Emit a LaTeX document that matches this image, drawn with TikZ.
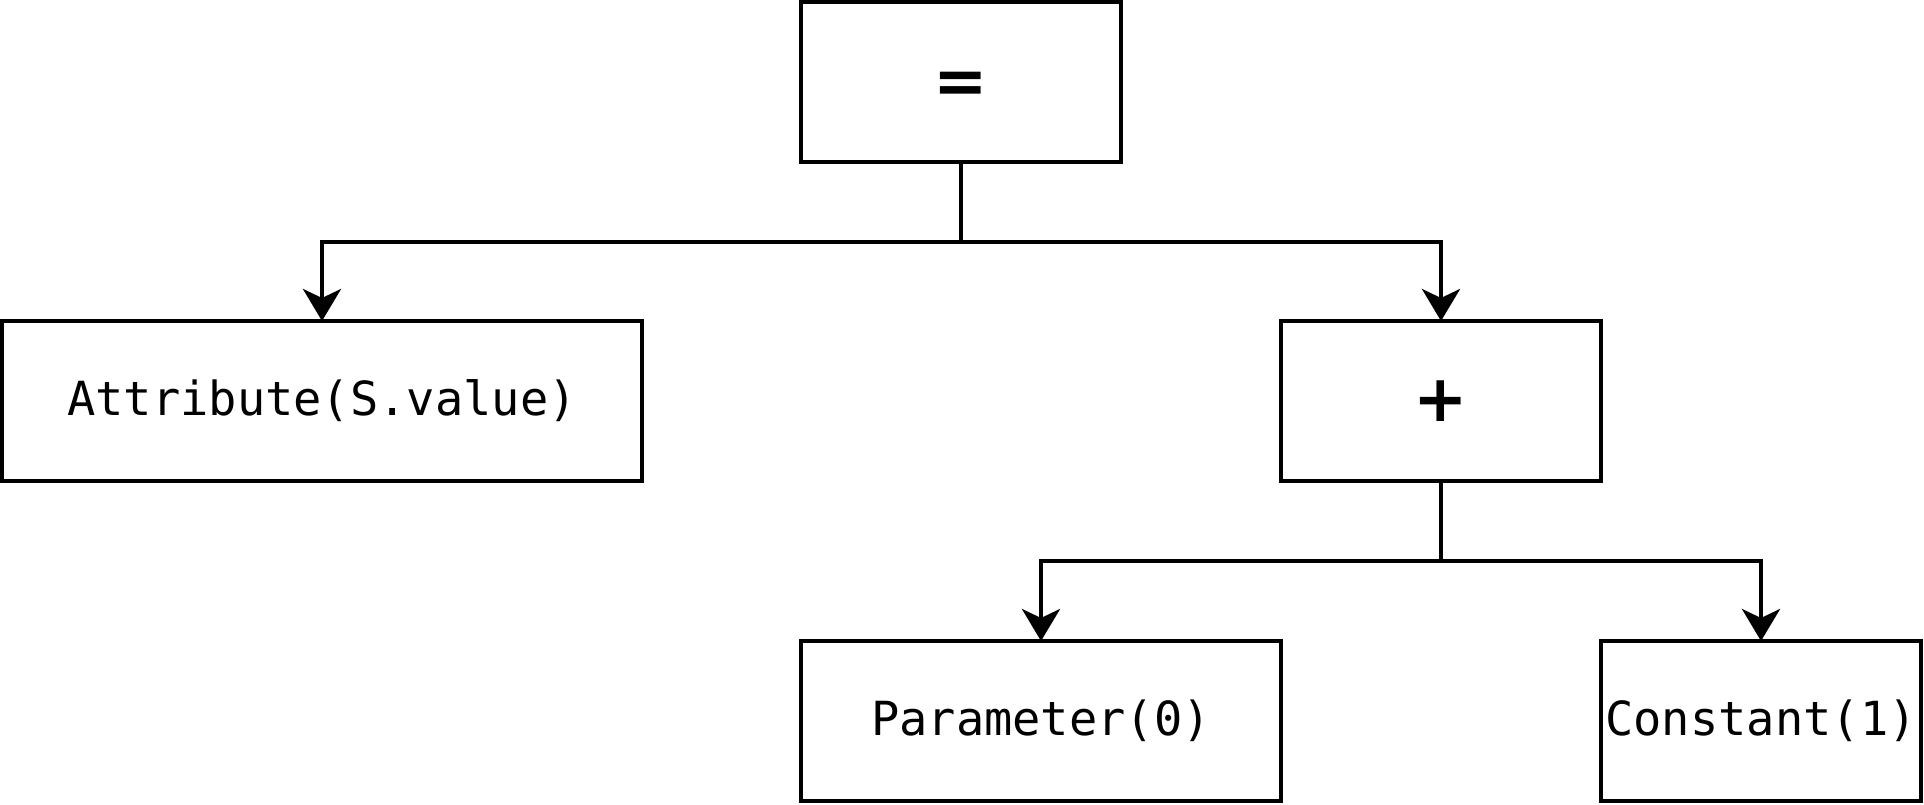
\documentclass[tikz,border=0pt]{standalone}
\usepackage{fontspec}
\newfontfamily\monof{DejaVu Sans Mono}
\newfontfamily\opf{DejaVu Sans}
\usetikzlibrary{arrows.meta}
\begin{document}
\begin{tikzpicture}[x=1pt,y=-1pt,
  box/.style={draw=black,line width=4pt,fill=white,rectangle,inner sep=0pt,outer sep=0pt,minimum height=160pt},
  codetext/.style={font=\monof\fontsize{47}{56}\selectfont},
  optext/.style={font=\opf\bfseries\fontsize{65}{70}\selectfont},
  arr/.style={line width=4pt,-{Stealth[length=32pt,width=38pt,inset=9pt]}}]
\useasboundingbox (0,0) rectangle (1924,804);
\node[box,minimum width=320pt,optext] (eq) at (961,82) {\raisebox{-21pt}[0pt][0pt]{=}};
\node[box,minimum width=640pt,codetext] (attr) at (322,401) {Attribute(S.value)};
\node[box,minimum width=320pt,optext] (plus) at (1441,401) {+};
\node[box,minimum width=480pt,codetext] (param) at (1041,721) {Parameter(0)};
\node[box,minimum width=320pt,codetext] (const) at (1761,721) {Constant(1)};
\coordinate (bus1) at ([yshift=-80pt]eq.south);
\coordinate (bus2) at ([yshift=-80pt]plus.south);
\draw[line width=4pt] (eq.south) -- (bus1);
\draw[arr] (bus1) -| (attr.north);
\draw[arr] (bus1) -| (plus.north);
\draw[line width=4pt] (plus.south) -- (bus2);
\draw[arr] (bus2) -| (param.north);
\draw[arr] (bus2) -| (const.north);
\end{tikzpicture}
\end{document}
